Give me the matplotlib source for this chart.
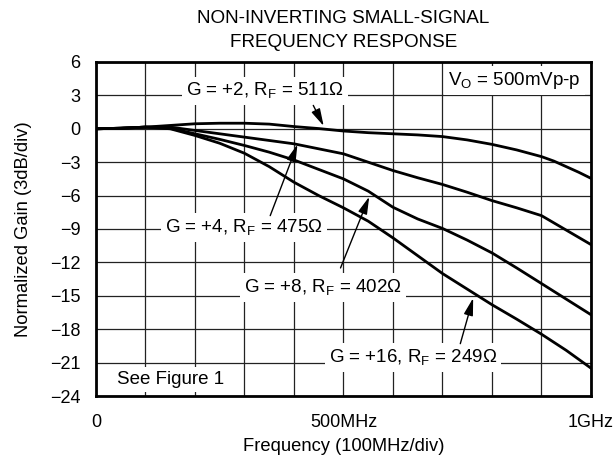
"""Non-inverting small-signal frequency response (normalized gain vs frequency)."""

import matplotlib as mpl
import matplotlib.pyplot as plt

mpl.rcParams.update(
    {
        "font.family": ["Liberation Sans", "DejaVu Sans"],
        "mathtext.fontset": "custom",
        "mathtext.rm": "Liberation Sans",
        "font.size": 13,
    }
)

# frequency in MHz, gain in dB
FREQ = [0, 50, 100, 150, 200, 250, 300, 350, 400, 450, 500,
        550, 600, 650, 700, 750, 800, 850, 900, 950, 1000]
FREQ_G2 = [0, 50, 100, 150, 200, 250, 300, 350, 400, 450, 500, 550, 600,
           650, 700, 750, 800, 850, 900, 925, 950, 975, 1000]
GAIN_G2 = [0.0, 0.05, 0.15, 0.3, 0.45, 0.5, 0.5, 0.42, 0.2, 0.02, -0.2, -0.35, -0.45,
           -0.55, -0.7, -1.0, -1.4, -1.9, -2.5, -2.9, -3.4, -3.9, -4.45]
GAIN_G4 = [0.0, 0.05, 0.15, 0.15, -0.15, -0.45, -0.75, -1.05, -1.35, -1.8, -2.25,
           -3.0, -3.75, -4.4, -5.0, -5.7, -6.45, -7.1, -7.8, -9.1, -10.4]
GAIN_G8 = [0.0, 0.05, 0.15, 0.05, -0.45, -0.95, -1.5, -2.1, -2.8, -3.65, -4.5,
           -5.6, -7.05, -8.1, -8.95, -10.0, -11.15, -12.5, -13.9, -15.3, -16.7]
GAIN_G16 = [0.0, 0.05, 0.15, 0.0, -0.6, -1.3, -2.2, -3.4, -4.8, -6.0, -7.1,
            -8.3, -9.8, -11.4, -13.0, -14.4, -15.8, -17.1, -18.45, -19.9, -21.5]

X_TICKS = list(range(0, 1001, 100))
X_TICK_LABELS = ["0", "", "", "", "", "500MHz", "", "", "", "", "1GHz"]
Y_TICKS = list(range(-24, 7, 3))

# (label, text x, text baseline y, arrow tail, arrow tip)
LABELS = [
    (r"G = +2, R$_\mathregular{F}$ = 511Ω", 342, 2.95, (439, 2.1), (460, 0.25)),
    (r"G = +4, R$_\mathregular{F}$ = 475Ω", 299, -9.3, (352, -7.8), (407, -1.4)),
    (r"G = +8, R$_\mathregular{F}$ = 402Ω", 459, -14.7, (494, -12.5), (552, -6.1)),
    (r"G = +16, R$_\mathregular{F}$ = 249Ω", 640, -21.0, (736, -19.3), (762, -15.2)),
]

fig = plt.figure(figsize=(6.16, 4.66), dpi=100)
ax = fig.add_axes([0.1558, 0.1502, 0.8036, 0.7168])

ax.set_xlim(0, 1000)
ax.set_ylim(-24, 6)
ax.set_xticks(X_TICKS)
ax.set_xticklabels(X_TICK_LABELS)
ax.set_yticks(Y_TICKS)
ax.tick_params(length=0, labelsize=13)
ax.tick_params(axis="x", pad=13)
ax.tick_params(axis="y", pad=11)
ax.grid(True, color="#222222", lw=0.9)
ax.set_axisbelow(True)
for sp in ax.spines.values():
    sp.set_linewidth(2.0)

for gain, freq in [(GAIN_G2, FREQ_G2), (GAIN_G4, FREQ), (GAIN_G8, FREQ), (GAIN_G16, FREQ)]:
    ax.plot(freq, gain, color="black", lw=2.0, solid_capstyle="round", zorder=3)

box = dict(facecolor="white", edgecolor="none", pad=3)
for text, tx, ty, tail, tip in LABELS:
    ax.text(tx, ty, text, ha="center", va="baseline", fontsize=13.5, bbox=box, zorder=4)
    ax.annotate(
        "", xy=tip, xytext=tail,
        arrowprops=dict(arrowstyle="-|>,head_length=0.75,head_width=0.2", color="black",
                        lw=1.0, shrinkA=0, shrinkB=0, mutation_scale=14),
        zorder=5,
    )

ax.text(712, 3.9, r"V$_\mathregular{O}$ = 500mVp-p", ha="left", va="baseline",
        fontsize=13.5, bbox=box, zorder=4)
ax.text(43, -22.95, "See Figure 1", ha="left", va="baseline", fontsize=13.5, bbox=box, zorder=4)

ax.set_title("NON-INVERTING SMALL-SIGNAL\nFREQUENCY RESPONSE", fontsize=13.6,
             linespacing=1.5, pad=11)
ax.set_xlabel("Frequency (100MHz/div)", fontsize=13.2, labelpad=5)
ax.set_ylabel("Normalized Gain (3dB/div)", fontsize=13.2, labelpad=13)

fig.savefig("out.png", dpi=100, facecolor="white")
